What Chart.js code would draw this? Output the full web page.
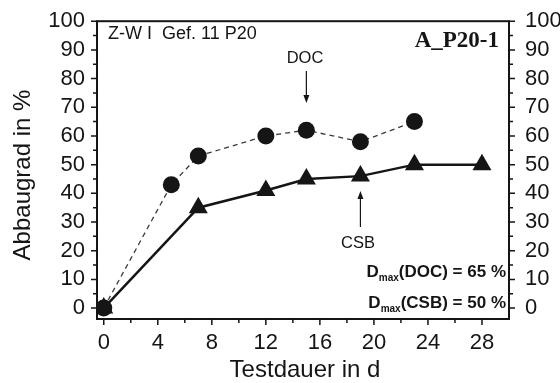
<!DOCTYPE html>
<html>
<head>
<meta charset="utf-8">
<script src="https://cdn.jsdelivr.net/npm/chart.js@4/dist/chart.umd.min.js"></script>
<style>
  body { margin: 0; background: #fff; }
  #wrap { width: 560px; height: 383px; }
</style>
</head>
<body>
<div id="wrap"><canvas id="abbauChart" width="560" height="383"></canvas></div>
<script>
// DOC (circles, dashed) and CSB (triangles, solid), Abbaugrad in %
const docDays = [0, 5, 7, 12, 15, 19, 23];
const docValues = [0, 43, 53, 60, 62, 58, 65];
const csbDays = [0, 7, 12, 15, 19, 23, 28];
const csbValues = [0, 35, 41, 45, 46, 50, 50];
const xTickValues = [0, 4, 8, 12, 16, 20, 24, 28];
const yTickValues = [0, 10, 20, 30, 40, 50, 60, 70, 80, 90, 100];

const sans = "'Liberation Sans', Arial, sans-serif";
const ink = "#151515";

function drawArrow(ctx, x, fromY, toY) {
  const dir = toY > fromY ? 1 : -1;
  ctx.beginPath();
  ctx.moveTo(x, fromY);
  ctx.lineTo(x, toY - dir * 6);
  ctx.stroke();
  ctx.beginPath();
  ctx.moveTo(x, toY);
  ctx.lineTo(x - 3, toY - dir * 8);
  ctx.lineTo(x + 3, toY - dir * 8);
  ctx.closePath();
  ctx.fill();
}

function drawDmax(ctx, name, value, rightX, baseY) {
  const big = "bold 17px " + sans;
  const small = "bold 10px " + sans;
  const rest = "(" + name + ") = " + value + " %";
  ctx.font = big;
  const wD = ctx.measureText("D").width;
  const wRest = ctx.measureText(rest).width;
  ctx.font = small;
  const wSub = ctx.measureText("max").width;
  let x = rightX - (wD + wSub + wRest);
  ctx.textAlign = "left";
  ctx.font = big;
  ctx.fillText("D", x, baseY);
  x += wD;
  ctx.font = small;
  ctx.fillText("max", x, baseY + 4);
  x += wSub;
  ctx.font = big;
  ctx.fillText(rest, x, baseY);
}

const framePlugin = {
  id: "frame",
  afterDatasetsDraw(chart) {
    const { ctx, chartArea: a, scales } = chart;
    const xs = scales.x;
    const ys = scales.y;
    ctx.save();
    ctx.strokeStyle = ink;
    ctx.fillStyle = ink;

    // frame
    ctx.lineWidth = 2;
    ctx.strokeRect(a.left, a.top, a.right - a.left, a.bottom - a.top);

    // tick marks, major and minor
    ctx.lineWidth = 1.5;
    ctx.beginPath();
    for (let v = 0; v <= 28; v += 2) {
      const px = xs.getPixelForValue(v);
      const len = v % 4 === 0 ? 6 : 4;
      ctx.moveTo(px, a.bottom);
      ctx.lineTo(px, a.bottom + len);
    }
    for (let v = 0; v <= 100; v += 5) {
      const py = ys.getPixelForValue(v);
      const len = v % 10 === 0 ? 6 : 4;
      ctx.moveTo(a.left, py);
      ctx.lineTo(a.left - len, py);
      ctx.moveTo(a.right, py);
      ctx.lineTo(a.right + len, py);
    }
    ctx.stroke();

    // labels in the plot
    ctx.textBaseline = "alphabetic";
    ctx.font = "18px " + sans;
    ctx.textAlign = "left";
    ctx.fillText("Z-W I  Gef. 11 P20", 108, 39);

    ctx.font = "bold 23px 'Liberation Serif', 'Times New Roman', serif";
    ctx.textAlign = "right";
    ctx.fillText("A_P20-1", 499, 47);

    ctx.font = "16.5px " + sans;
    ctx.textAlign = "center";
    ctx.fillText("DOC", 305, 63);
    ctx.fillText("CSB", 358, 248);

    ctx.lineWidth = 1.2;
    drawArrow(ctx, xs.getPixelForValue(15), 71, 103);
    drawArrow(ctx, xs.getPixelForValue(19), 227, 191);

    drawDmax(ctx, "DOC", Math.max(...docValues), 506, 277);
    drawDmax(ctx, "CSB", Math.max(...csbValues), 506, 308);

    // axis titles
    ctx.font = "24px " + sans;
    ctx.textAlign = "center";
    ctx.fillText("Testdauer in d", 305, 377);
    ctx.save();
    ctx.translate(30, 175);
    ctx.rotate(-Math.PI / 2);
    ctx.fillText("Abbaugrad in %", 0, 0);
    ctx.restore();

    ctx.restore();
  }
};

function fixedTicks(values) {
  return (scale) => {
    scale.ticks = values.map((v) => ({ value: v }));
  };
}

const tickFont = { family: sans, size: 22 };

new Chart(document.getElementById("abbauChart"), {
  type: "line",
  data: {
    datasets: [
      {
        label: "DOC",
        data: docDays.map((d, i) => ({ x: d, y: docValues[i] })),
        borderColor: "#3a3a3a",
        borderWidth: 1.3,
        borderDash: [5, 4],
        pointStyle: "circle",
        pointRadius: 8.5,
        pointBackgroundColor: ink,
        pointBorderColor: ink,
        pointBorderWidth: 0,
        tension: 0,
      },
      {
        label: "CSB",
        data: csbDays.map((d, i) => ({ x: d, y: csbValues[i] })),
        borderColor: ink,
        borderWidth: 2.5,
        pointStyle: "triangle",
        pointRadius: 11,
        pointBackgroundColor: ink,
        pointBorderColor: ink,
        pointBorderWidth: 0,
        tension: 0,
      },
    ],
  },
  options: {
    responsive: false,
    animation: false,
    devicePixelRatio: 1,
    layout: { padding: { top: 16, left: 0, right: 0, bottom: 0 } },
    plugins: { legend: { display: false }, tooltip: { enabled: false } },
    scales: {
      x: {
        type: "linear",
        min: -0.5,
        max: 30,
        grid: { display: false },
        border: { display: false },
        afterBuildTicks: fixedTicks(xTickValues),
        afterFit: (s) => { s.height = 64; },
        ticks: { font: tickFont, color: ink, padding: 3, maxRotation: 0 },
      },
      y: {
        position: "left",
        min: -3.8,
        max: 100,
        grid: { display: false },
        border: { display: false },
        afterBuildTicks: fixedTicks(yTickValues),
        afterFit: (s) => { s.width = 97; },
        ticks: { font: tickFont, color: ink, padding: 4 },
      },
      y2: {
        position: "right",
        min: -3.8,
        max: 100,
        grid: { display: false },
        border: { display: false },
        afterBuildTicks: fixedTicks(yTickValues),
        afterFit: (s) => { s.width = 51; },
        ticks: { font: tickFont, color: ink, padding: 8 },
      },
    },
  },
  plugins: [framePlugin],
});
</script>
</body>
</html>
